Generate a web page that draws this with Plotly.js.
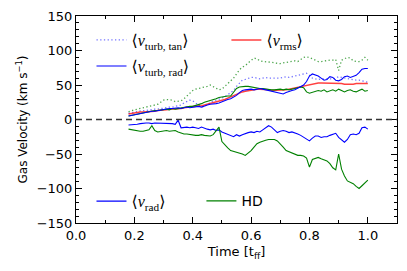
<!DOCTYPE html>
<html><head><meta charset="utf-8">
<script src="https://cdn.plot.ly/plotly-3.0.1.min.js"></script>
<style>body{margin:0;background:#fff}#c{width:407px;height:271px}</style>
</head><body><div id="c"></div>
<script>
// time grid [t_ff]: 0.18 .. 1.00 step 0.01
const time = [0.18,0.19,0.20,0.21,0.22,0.23,0.24,0.25,0.26,0.27,
0.28,0.29,0.30,0.31,0.32,0.33,0.34,0.35,0.36,0.37,
0.38,0.39,0.40,0.41,0.42,0.43,0.44,0.45,0.46,0.47,
0.48,0.49,0.50,0.51,0.52,0.53,0.54,0.55,0.56,0.57,
0.58,0.59,0.60,0.61,0.62,0.63,0.64,0.65,0.66,0.67,
0.68,0.69,0.70,0.71,0.72,0.73,0.74,0.75,0.76,0.77,
0.78,0.79,0.80,0.81,0.82,0.83,0.84,0.85,0.86,0.87,
0.88,0.89,0.90,0.91,0.92,0.93,0.94,0.95,0.96,0.97,
0.98,0.99,1.00];

const mhdTurbTan = [9,10,11,12,12,13,13,14,14,15,
15,16,17,17,18,18,19,20,21,24,
26,28,27,24,20,18,19,22,24,27,
28,29,31,33,36,38,42,48,53,57,
58,60,61,61,60,59,60,61,60,60,
60,59,60,61,62,61,62,63,64,65,
66,67,64,60,59,58,59,59,58,59,
59,60,62,61,60,60,58,58,57,57,
56,55,54];

const hdTurbTan = [11,13,14,15,16,16,17,18,19,20,
22,25,28,29,29,28,26,26,27,30,
34,38,42,44,45,46,46,48,50,48,
45,43,44,48,52,56,60,66,72,76,
78,82,86,89,88,85,84,84,83,83,
82,81,81,82,83,83,84,85,84,87,
90,91,90,88,86,84,84,85,86,86,
86,87,71,86,88,90,89,85,84,84,
86,90,86];

const mhdTurbRad = [5,6,7,8,9,10,10,11,12,12,
13,14,15,16,16,16,17,17,16,17,
18,17,18,19,19,18,20,21,22,22,
23,24,26,27,29,30,32,35,39,42,
43,44,44,43,44,45,44,43,42,41,
41,40,38,37,39,41,42,43,45,47,
50,55,63,66,65,63,60,57,58,62,
61,57,56,58,62,63,61,62,64,68,
73,74,74];

const hdTurbRad = [5,6,7,8,9,10,11,12,12,13,
13,14,14,15,14,16,15,16,17,18,
18,19,19,20,21,23,25,26,27,28,
30,32,33,33,34,34,40,45,47,48,
48,48,47,47,46,45,45,44,44,43,
43,44,44,43,44,43,44,45,46,47,
46,40,38,39,40,42,41,43,40,42,
43,41,44,42,40,42,43,41,40,42,
44,41,42];

const vRms = [8,9,10,10,11,11,11,12,12,12,
13,13,14,14,15,15,16,16,16,17,
17,18,19,19,20,20,21,22,23,24,
25,26,28,29,31,33,35,37,38,40,
41,42,43,44,44,44,44,43,43,42,
42,42,42,43,43,44,45,46,46,47,
48,49,50,51,52,53,53,53,52,52,
52,53,52,52,51,51,50,51,52,52,
53,52,52];

const mhdRad = [-8,-8,-8,-7,-6,-5,-5,-5,-6,-5,
-5,-5,-5,-6,-6,-6,-7,-1,-12,-11,
-11,-12,-11,-12,-13,-11,-13,-14,-15,-14,
-16,-15,-18,-20,-21,-24,-25,-22,-24,-22,
-20,-19,-18,-19,-17,-18,-15,-12,-9,-11,
-15,-19,-17,-16,-17,-19,-18,-19,-21,-23,
-26,-29,-31,-27,-24,-24,-26,-25,-25,-23,
-21,-20,-26,-30,-33,-29,-22,-21,-22,-20,
-12,-11,-14];

const hdRad = [-14,-15,-15,-16,-17,-17,-16,-15,-9,-16,
-18,-17,-17,-16,-17,-16,-16,-18,-20,-21,
-21,-22,-22,-23,-23,-22,-23,-24,-24,-22,
-16,-11,-32,-37,-41,-45,-46,-47,-48,-50,
-52,-49,-45,-40,-35,-33,-31,-30,-29,-29,
-29,-31,-35,-40,-45,-47,-48,-50,-52,-52,
-53,-56,-69,-58,-56,-55,-57,-58,-60,-64,
-70,-73,-50,-72,-82,-89,-91,-93,-97,-100,
-96,-92,-88];

const labels = {
  tan: '⟨<i>v</i><sub>turb, tan</sub>⟩',
  rad: '⟨<i>v</i><sub>turb, rad</sub>⟩',
  rms: '⟨<i>v</i><sub>rms</sub>⟩',
  vrad: '⟨<i>v</i><sub>rad</sub>⟩',
  hd: 'HD'
};

const BLUE = '#0000ff', GREEN = '#008000', RED = 'rgba(255,0,0,0.75)';
const BLUE_DOT = 'rgba(0,0,255,0.55)', GREEN_DOT = 'rgba(0,128,0,0.7)';
const DOTS = '1.3px,2.4px';

const traces = [
  {x: time, y: hdTurbTan, mode:'lines', line:{color:GREEN_DOT, width:1.3, dash:DOTS}, showlegend:false},
  {x: time, y: mhdTurbTan, mode:'lines', line:{color:BLUE_DOT, width:1.3, dash:DOTS}, name:labels.tan, legend:'legend'},
  {x: time, y: vRms, mode:'lines', line:{color:RED, width:1.5}, name:labels.rms, legend:'legend3'},
  {x: time, y: hdTurbRad, mode:'lines', line:{color:GREEN, width:1.1}, showlegend:false},
  {x: time, y: mhdTurbRad, mode:'lines', line:{color:BLUE, width:1.1}, name:labels.rad, legend:'legend2'},
  {x: time, y: mhdRad, mode:'lines', line:{color:BLUE, width:1.1}, name:labels.vrad, legend:'legend4'},
  {x: time, y: hdRad, mode:'lines', line:{color:GREEN, width:1.1}, name:labels.hd, legend:'legend5'}
];

const L = 75.5, R = 10.3, T = 16, B = 48.3;
const pw = 407 - L - R, ph = 271 - T - B;
const px = v => (v - L) / pw;
const py = v => (271 - B - v) / ph;
const mathFont = {family:'Liberation Serif, DejaVu Serif, serif', size:16, color:'#000'};
function leg(x, y, font) {
  return {x: px(x), y: py(y), xanchor:'left', yanchor:'middle', bgcolor:'rgba(0,0,0,0)',
          borderwidth:0, font: font || mathFont, itemwidth:30};
}

const layout = {
  width: 407, height: 271,
  margin: {l: L, r: R, t: T, b: B, pad: 0},
  paper_bgcolor: '#fff', plot_bgcolor: '#fff',
  font: {family: 'DejaVu Sans, sans-serif', size: 13, color: '#000'},
  xaxis: {
    range: [0, 1.1], dtick: 0.2, tick0: 0, tickformat: '.1f',
    ticks: 'inside', ticklen: 6, tickcolor: '#000', tickwidth: 1,
    showline: true, linecolor: '#000', linewidth: 1, mirror: 'ticks',
    showgrid: false, zeroline: false,
    minor: {dtick: 0.1, ticks: 'inside', ticklen: 3, tickcolor: '#000', showgrid: false},
    tickfont: {size: 13},
    title: {text: 'Time [t<sub>ff</sub>]', font: {size: 13}, standoff: 5}
  },
  yaxis: {
    range: [-150, 150], dtick: 50,
    ticks: 'inside', ticklen: 6, tickcolor: '#000', tickwidth: 1,
    showline: true, linecolor: '#000', linewidth: 1, mirror: 'ticks',
    showgrid: false, zeroline: false,
    minor: {dtick: 10, ticks: 'inside', ticklen: 3, tickcolor: '#000', showgrid: false},
    tickfont: {size: 13},
    title: {text: 'Gas Velocity (km s<sup>−1</sup>)', font: {size: 12}, standoff: 6}
  },
  shapes: [{type: 'line', xref: 'paper', x0: 0, x1: 1, yref: 'y', y0: 0, y1: 0,
            line: {color: '#333', width: 1.5, dash: '6px,4px'}}],
  legend: leg(91, 40),
  legend2: leg(91, 66),
  legend3: leg(226, 40),
  legend4: leg(91, 201),
  legend5: leg(201, 201, {family:'DejaVu Sans, sans-serif', size:14, color:'#000'}),
  showlegend: true
};

Plotly.newPlot('c', traces, layout, {staticPlot: true, displayModeBar: false});
</script></body></html>
